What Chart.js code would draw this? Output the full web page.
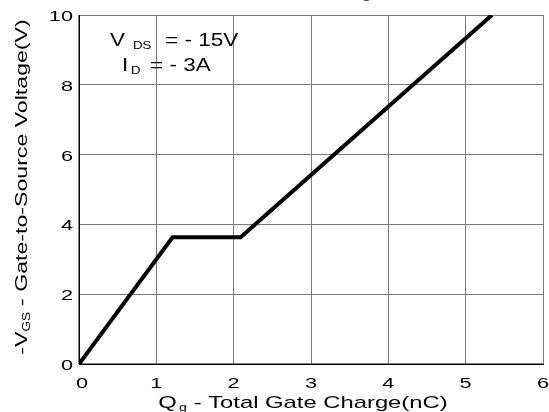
<!DOCTYPE html>
<html>
<head>
<meta charset="utf-8">
<script src="https://cdn.jsdelivr.net/npm/chart.js@4"></script>
<style>
  html, body { margin: 0; padding: 0; background: #fff; }
  #wrap { width: 549px; height: 412px; }
</style>
</head>
<body>
<div id="wrap"><canvas id="qg" width="549" height="412"></canvas></div>
<script>
// 数据：栅极电荷曲线
const gateCharge = [0, 1.21, 2.09, 5.34];   // Qg (nC)
const vgs = [0, 3.63, 3.63, 10];             // -VGS (V)
const xTicks = [0, 1, 2, 3, 4, 5, 6];
const yTicks = [0, 2, 4, 6, 8, 10];

const FONT = "'Liberation Sans', Arial, sans-serif";

// 横向拉宽的文字（原图字体偏宽）
function wide(ctx, text, x, y, size, sx, align) {
  ctx.save();
  ctx.font = `${size}px ${FONT}`;
  const w = ctx.measureText(text).width * sx;
  const x0 = align === "right" ? x - w : align === "center" ? x - w / 2 : x;
  ctx.translate(x0, y);
  ctx.scale(sx, 1);
  ctx.textAlign = "left";
  ctx.fillText(text, 0, 0);
  ctx.restore();
  return w;
}
function wideW(ctx, text, size, sx) {
  ctx.font = `${size}px ${FONT}`;
  return ctx.measureText(text).width * sx;
}

const labels = {
  id: "labels",
  afterDraw(chart) {
    const ctx = chart.ctx, a = chart.chartArea;
    const sx = chart.scales.x, sy = chart.scales.y;
    ctx.save();
    ctx.fillStyle = "#000";
    ctx.textBaseline = "alphabetic";

    // 刻度
    xTicks.forEach(v => {
      const px = sx.getPixelForValue(v) + (v === 0 ? 3 : 0);
      wide(ctx, String(v), px, 388, 15, 1.45, "center");
    });
    yTicks.forEach(v => {
      const py = sy.getPixelForValue(v);
      wide(ctx, String(v), 73, py + 6, 15, 1.45, "right");
    });

    // 条件
    wide(ctx, "V", 110, 46, 18, 1.25);
    wide(ctx, "DS", 133, 49, 11, 1.2);
    wide(ctx, "= - 15V", 165, 46, 18, 1.25);
    wide(ctx, "I", 122, 71, 18, 1.25);
    wide(ctx, "D", 131, 74, 11, 1.2);
    wide(ctx, "= - 3A", 150, 71, 18, 1.25);

    // X 轴标题
    const xs = 1.4, xw = wideW(ctx, "Q", 17, xs) + 2 + wideW(ctx, "g", 10, xs) + 7 + wideW(ctx, "- Total Gate Charge(nC)", 17, xs);
    let cx = 303 - xw / 2;
    cx += wide(ctx, "Q", cx, 408, 17, xs) + 2;
    cx += wide(ctx, "g", cx, 411, 10, xs) + 7;
    wide(ctx, "- Total Gate Charge(nC)", cx, 408, 17, xs);

    // Y 轴标题
    ctx.save();
    ctx.translate(27, 187);
    ctx.rotate(-Math.PI / 2);
    const ys = 1.36, yw = wideW(ctx, "-V", 17, ys) + wideW(ctx, "GS", 10, ys) + 6 + wideW(ctx, "- Gate-to-Source Voltage(V)", 17, ys);
    let cy = -yw / 2;
    cy += wide(ctx, "-V", cy, 0, 17, ys);
    cy += wide(ctx, "GS", cy, 3, 10, ys) + 6;
    wide(ctx, "- Gate-to-Source Voltage(V)", cy, 0, 17, ys);
    ctx.restore();

    // 被截断的标题
    ctx.font = `bold 18px ${FONT}`;
    ctx.textAlign = "right";
    ctx.fillStyle = "#444";
    ctx.fillText("Gate Charge", 382, -3);

    // 左、下框线
    ctx.strokeStyle = "#000";
    ctx.lineWidth = 1;
    ctx.beginPath();
    ctx.moveTo(a.left, a.top);
    ctx.lineTo(a.left, a.bottom);
    ctx.lineTo(a.right, a.bottom);
    ctx.stroke();
    ctx.restore();
  }
};

new Chart(document.getElementById("qg"), {
  type: "scatter",
  data: {
    datasets: [{
      data: gateCharge.map((x, i) => ({ x, y: vgs[i] })),
      showLine: true,
      borderColor: "#000",
      borderWidth: 4,
      pointRadius: 0,
      borderJoinStyle: "miter",
      tension: 0
    }]
  },
  options: {
    responsive: false,
    animation: false,
    layout: { padding: { top: 15, right: 6, left: 0, bottom: 0 } },
    plugins: { legend: { display: false }, tooltip: { enabled: false } },
    scales: {
      x: {
        type: "linear", min: 0, max: 6,
        afterBuildTicks: s => { s.ticks = xTicks.map(v => ({ value: v })); },
        afterFit: s => { s.height = 48; s.paddingLeft = 0; s.paddingRight = 0; },
        grid: { color: "#7a7a7a", lineWidth: 1, drawTicks: false },
        border: { color: "#000", width: 1 },
        ticks: { display: false }
      },
      y: {
        type: "linear", min: 0, max: 10,
        afterBuildTicks: s => { s.ticks = yTicks.map(v => ({ value: v })); },
        afterFit: s => { s.width = 79; s.paddingTop = 0; s.paddingBottom = 0; },
        grid: { color: "#7a7a7a", lineWidth: 1, drawTicks: false },
        border: { color: "#000", width: 1 },
        ticks: { display: false }
      }
    }
  },
  plugins: [labels]
});
</script>
</body>
</html>
